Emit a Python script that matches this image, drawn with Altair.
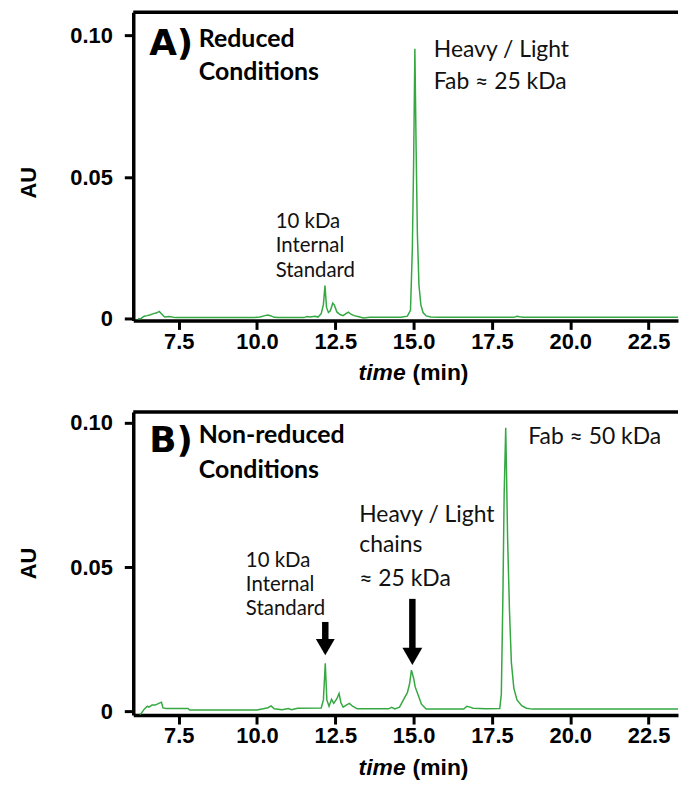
import altair as alt
import pandas as pd

# ---------------- data ----------------
tA = [6.2, 6.3, 6.4, 6.5, 6.6, 6.7, 6.8, 6.88, 6.95, 7.05, 7.2, 7.4, 8.0, 9.0, 9.9,
      10.1, 10.25, 10.35, 10.45, 10.55, 10.7, 11.0, 11.5, 11.6, 11.7, 11.85, 11.95,
      12.05, 12.12, 12.17, 12.22, 12.28, 12.34, 12.42, 12.47, 12.55, 12.65, 12.75,
      12.85, 12.92, 13.0, 13.1, 13.25, 13.4, 13.6, 14.0, 14.6, 14.8, 14.9, 14.96,
      15.0, 15.04, 15.08, 15.12, 15.17, 15.23, 15.3, 15.4, 15.55, 15.8, 16.5, 17.5,
      18.2, 18.3, 18.38, 18.5, 19.5, 21.0, 22.5, 24.0]
auA = [0.0, 0.0001, 0.0009, 0.0011, 0.0014, 0.0018, 0.0021, 0.0026, 0.0018, 0.0006,
       0.0008, 0.0004, 0.0004, 0.0004, 0.0004,
       0.0006, 0.0011, 0.0013, 0.0010, 0.0005, 0.0004, 0.0004, 0.0004, 0.0008, 0.0006,
       0.0009, 0.0006,
       0.0018, 0.0050, 0.0117, 0.0040, 0.0022, 0.0028, 0.0055, 0.0048, 0.0024, 0.0015,
       0.0011, 0.0019, 0.0023, 0.0016, 0.0011, 0.0007, 0.0003, 0.0005, 0.0005, 0.0005,
       0.0009, 0.0030, 0.0250,
       0.0550, 0.0953, 0.0600, 0.0300, 0.0120, 0.0050, 0.0022, 0.0010, 0.0006, 0.0005,
       0.0005, 0.0005,
       0.0005, 0.0009, 0.0007, 0.0005, 0.0005, 0.0005, 0.0005, 0.0005]

tB = [6.25, 6.3, 6.4, 6.5, 6.55, 6.65, 6.75, 6.85, 6.95, 7.0, 7.1, 7.8, 7.85, 9.0,
      10.0, 10.2, 10.35, 10.45, 10.55, 10.8, 11.0, 11.1, 11.3, 12.05, 12.12, 12.18,
      12.23, 12.3, 12.38, 12.45, 12.55, 12.62, 12.68, 12.75, 12.85, 12.95, 13.05, 13.2,
      14.2, 14.3, 14.4, 14.55, 14.7, 14.8, 14.87, 14.93, 15.0, 15.05, 15.15, 15.25,
      15.4, 16.6, 16.7, 16.8, 16.9, 17.3, 17.75, 17.8, 17.85, 17.89, 17.94, 17.97,
      18.0, 18.06, 18.12, 18.2, 18.3, 18.45, 18.6, 18.8, 20.0, 22.0, 24.0]
auB = [-0.0010, -0.0008, 0.0008, 0.0018, 0.0015, 0.0022, 0.0022, 0.0027, 0.0032,
       0.0012, 0.0010, 0.0010, 0.0005, 0.0005,
       0.0005, 0.0009, 0.0013, 0.0019, 0.0009, 0.0006, 0.0010, 0.0006, 0.0011, 0.0012,
       0.0040, 0.0167,
       0.0040, 0.0018, 0.0042, 0.0028, 0.0044, 0.0062, 0.0030, 0.0015, 0.0022, 0.0028,
       0.0018, 0.0009,
       0.0009, 0.0014, 0.0009, 0.0015, 0.0045, 0.0065, 0.0095, 0.0143, 0.0115, 0.0085,
       0.0055, 0.0025,
       0.0008, 0.0008, 0.0018, 0.0015, 0.0011, 0.0009, 0.0010, 0.0060, 0.0400, 0.0750,
       0.0983, 0.0800,
       0.0600, 0.0350, 0.0170, 0.0080, 0.0040, 0.0020, 0.0011, 0.0008, 0.0008, 0.0008,
       0.0008]

x_ticks = [7.5, 10.0, 12.5, 15.0, 17.5, 20.0, 22.5]
y_ticks = [0.0, 0.05, 0.10]

# annotations: (time, AU, text)
notesA_big = [(15.644, 0.09228, "Heavy / Light"), (15.644, 0.08116, "Fab \u2248 25 kDa")]
notesA_small = [(10.598, 0.03190, "10 kDa"), (10.598, 0.02340, "Internal"),
                (10.598, 0.01490, "Standard")]
notesB_big = [(18.66, 0.09267, "Fab \u2248 50 kDa"), (13.264, 0.06549, "Heavy / Light"),
              (13.264, 0.05516, "chains"), (13.264, 0.04357, "\u2248 25 kDa")]
notesB_small = [(9.645, 0.05000, "10 kDa"), (9.645, 0.04170, "Internal"),
                (9.645, 0.03340, "Standard")]
# arrows: time, shaft top, head centre, head size
arrowsB = [(12.18, 0.0310, 0.0223, 361), (14.96, 0.0390, 0.0191, 400)]

# ---------------- styling ----------------
GREEN = "#35a842"
W = 548
X_DOM = [6.05, 23.44]
AXFONT = "Liberation Sans"
LETTERFONT = "DejaVu Sans"
NOTEFONT = "Lato"


def pix_text(txt, x, y, size, weight="normal", font=NOTEFONT, style="normal", align="left"):
    return alt.Chart(pd.DataFrame({"v": [txt]})).mark_text(
        align=align, baseline="alphabetic", font=font, fontSize=size,
        fontWeight=weight, fontStyle=style, color="black"
    ).encode(x=alt.value(x), y=alt.value(y), text="v:N")


def panel(t, au, ydom, H, title_y, letter, cond1, letter_y, c1_y, c2_y,
          big, small, arrows):
    df = pd.DataFrame({"t": t, "au": au})
    xs = alt.Scale(domain=X_DOM, nice=False, zero=False)
    ys = alt.Scale(domain=ydom, nice=False, zero=False)
    line = alt.Chart(df).mark_line(color=GREEN, strokeWidth=1.5, clip=True).encode(
        x=alt.X("t:Q", scale=xs, axis=alt.Axis(values=x_ticks, format=".1f", title=None,
                                               labelPadding=2)),
        y=alt.Y("au:Q", scale=ys, axis=alt.Axis(
            values=y_ticks, title="AU", titleX=-105, titleY=title_y, titleAngle=270,
            titleAlign="center", titleBaseline="middle",
            labelPadding=12,
            labelExpr="datum.value == 0 ? '0' : format(datum.value, '.2f')")),
    )
    frame = alt.Chart(pd.DataFrame({"v": [0]})).mark_rule(
        color="black", strokeWidth=3.5
    ).encode(x=alt.value(0), x2=alt.value(W), y=alt.value(0))

    layers = [line, frame]
    for rows, size in ((big, 23), (small, 20.5)):
        ndf = pd.DataFrame(rows, columns=["t", "au", "label"])
        layers.append(alt.Chart(ndf).mark_text(
            align="left", baseline="alphabetic", font=NOTEFONT, fontSize=size,
            color="#111111").encode(x="t:Q", y="au:Q", text="label:N"))
    if arrows:
        adf = pd.DataFrame(arrows, columns=["t", "top", "head", "size"])
        layers.append(alt.Chart(adf).mark_rule(color="black", strokeWidth=6.5).encode(
            x="t:Q", y="top:Q", y2="head:Q"))
        layers.append(alt.Chart(adf).mark_point(
            shape="triangle-down", filled=True, color="black", opacity=1).encode(
            x="t:Q", y="head:Q", size=alt.Size("size:Q", scale=None, legend=None)))
    layers += [
        pix_text(letter, 16, letter_y, 36, weight="bold", font=LETTERFONT),
        pix_text(cond1, 66, c1_y, 25, weight="bold"),
        pix_text("Conditions", 66, c2_y, 25, weight="bold"),
        pix_text("time", 274, H + 60, 23, weight="bold", font=AXFONT, style="italic",
                 align="right"),
        pix_text("(min)", 281, H + 60, 23, weight="bold", font=AXFONT),
    ]
    return alt.layer(*layers).properties(width=W, height=H)


pA = panel(tA, auA, [-0.0006, 0.10818], 310, 171, "A)", "Reduced", 43, 35, 68,
           notesA_big, notesA_small, [])
pB = panel(tB, auB, [-0.00127, 0.10378], 305, 152, "B)", "Non-reduced", 40, 31, 66,
           notesB_big, notesB_small, arrowsB)

chart = alt.vconcat(pA, pB, spacing=92, bounds="flush").properties(
    padding={"left": 10, "top": 0, "right": 0, "bottom": 0}
).configure_view(strokeWidth=0).configure_axis(
    grid=False, domainColor="black", domainWidth=3.5, tickColor="black", tickWidth=3,
    tickSize=9, labelFont=AXFONT, labelFontWeight="bold", labelFontSize=22,
    labelColor="black", titleFont=AXFONT, titleFontWeight="bold", titleFontSize=22,
    titleColor="black"
)

chart.save("out.html", embed_options={"renderer": "svg", "actions": False})
